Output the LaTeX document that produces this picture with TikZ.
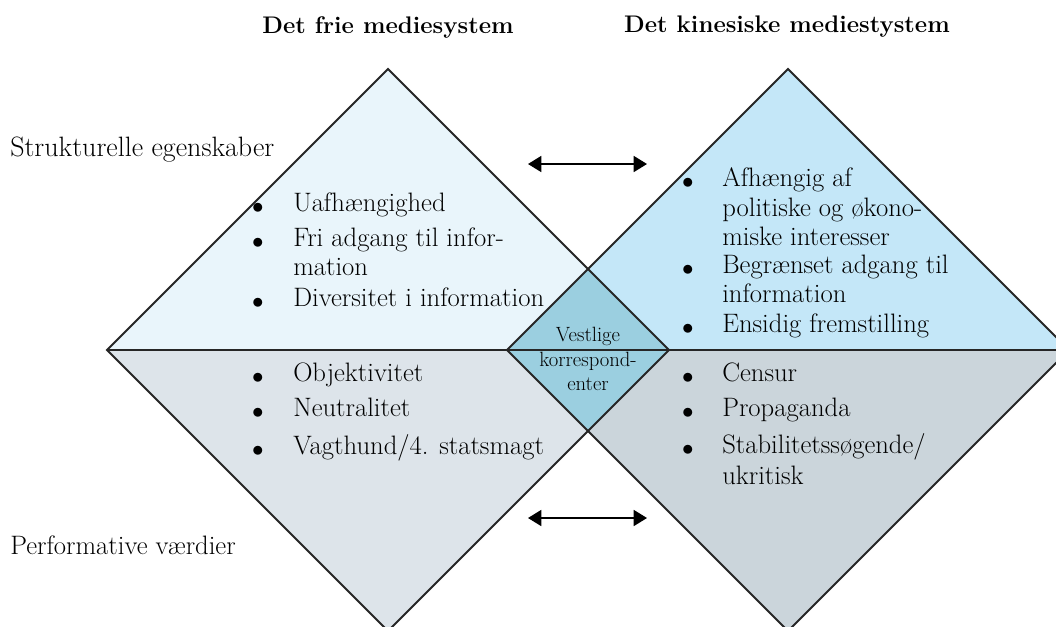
\documentclass[tikz,border=0pt]{standalone}
\usepackage{fontspec}
\usetikzlibrary{arrows.meta}

\definecolor{lysblaa}{HTML}{E9F5FB}
\definecolor{blaa}{HTML}{C4E7F8}
\definecolor{midtblaa}{HTML}{9BCFE0}
\definecolor{lysgraa}{HTML}{DDE4EA}
\definecolor{graa}{HTML}{CBD5DB}

\tikzset{
  kant/.style={line width=1.4pt, draw=black!85, line join=miter},
  tekst/.style={anchor=west, inner sep=0pt, text height=1.6ex, text depth=.4ex, font=\fontsize{20}{24}\selectfont},
  punkt/.style={inner sep=0pt, font=\fontsize{17}{20}\selectfont},
  titel/.style={inner sep=0pt, font=\bfseries\fontsize{18}{22}\selectfont},
  smaa/.style={inner sep=0pt, text height=1.6ex, text depth=.4ex, font=\fontsize{15.5}{18}\selectfont},
  pil/.style={{Triangle[length=10pt,width=12pt]}-{Triangle[length=10pt,width=12pt]}, line width=1.3pt},
}

\begin{document}
\begin{tikzpicture}[x=0.75pt,y=-0.75pt]
  \useasboundingbox (0,0) rectangle (1056,626);
  \clip (0,0) rectangle (1056,626);
  % Hjoerner paa de to ruder
  \coordinate (vv) at (107,350);
  \coordinate (vt) at (388,69);
  \coordinate (vb) at (388,631);
  \coordinate (vh) at (669,350);
  \coordinate (hv) at (507,350);
  \coordinate (ht) at (788,69);
  \coordinate (hb) at (788,631);
  \coordinate (hh) at (1069,350);
  \coordinate (mt) at (588,269);
  \coordinate (mb) at (588,431);
  % Flader
  \fill[lysblaa] (vv) -- (vt) -- (vh) -- cycle;
  \fill[lysgraa] (vv) -- (vb) -- (vh) -- cycle;
  \fill[blaa] (hv) -- (ht) -- (hh) -- cycle;
  \fill[graa] (hv) -- (hb) -- (hh) -- cycle;
  \fill[midtblaa] (hv) -- (mt) -- (vh) -- (mb) -- cycle;
  % Kanter
  \draw[kant] (vv) -- (vt) -- (vh) -- (vb) -- cycle;
  \draw[kant] (hv) -- (ht) -- (hh) -- (hb) -- cycle;
  \draw[kant] (vv) -- (hh);
  % Overskrifter
  \node[titel] (titelv) at (388,27) {Det frie mediesystem};
  \node[titel] (titelh) at (787,27) {Det kinesiske mediestystem};
  \node[tekst, font=\fontsize{21}{25}\selectfont] (struk) at (10,153) {Strukturelle egenskaber};
  \node[tekst] (perf) at (10,551) {Performative værdier};
  % Pile
  \coordinate (p1a) at (528,164);
  \coordinate (p1b) at (647,164);
  \coordinate (p2a) at (528,518);
  \coordinate (p2b) at (647,518);
  \draw[pil] (p1a) -- (p1b);
  \draw[pil] (p2a) -- (p2b);
  % Punkter, venstre top
  \foreach \y/\b/\t [count=\i] in {208/1/Uafhængighed, 243/1/Fri adgang til infor-, 272/0/mation, 303/1/Diversitet i information} {
    \node[tekst] (vt\i) at (293,\y) {\t};
    \ifnum\b=1 \node[punkt] (vtp\i) at (258,\y) {$\bullet$}; \fi
  }
  % Punkter, venstre bund
  \foreach \y/\b/\t [count=\i] in {378/1/Objektivitet, 413/1/Neutralitet, 451/1/{Vagthund/4. statsmagt}} {
    \node[tekst] (vb\i) at (293,\y) {\t};
    \ifnum\b=1 \node[punkt] (vbp\i) at (258,\y) {$\bullet$}; \fi
  }
  % Punkter, hoejre top
  \foreach \y/\b/\t [count=\i] in {183/1/Afhængig af, 213/0/politiske og økono-, 242/0/miske interesser, 270/1/Begrænset adgang til, 299/0/information, 329/1/Ensidig fremstilling} {
    \node[tekst] (ht\i) at (722,\y) {\t};
    \ifnum\b=1 \node[punkt] (htp\i) at (688,\y) {$\bullet$}; \fi
  }
  % Punkter, hoejre bund
  \foreach \y/\b/\t [count=\i] in {378/1/Censur, 413/1/Propaganda, 450/1/{Stabilitetssøgende/}, 481/0/ukritisk} {
    \node[tekst] (hb\i) at (722,\y) {\t};
    \ifnum\b=1 \node[punkt] (hbp\i) at (688,\y) {$\bullet$}; \fi
  }
  % Midten
  \node[smaa] (m1) at (588,338) {Vestlige};
  \node[smaa] (m2) at (588,363) {korrespond-};
  \node[smaa] (m3) at (588,387) {enter};
\end{tikzpicture}
\end{document}
